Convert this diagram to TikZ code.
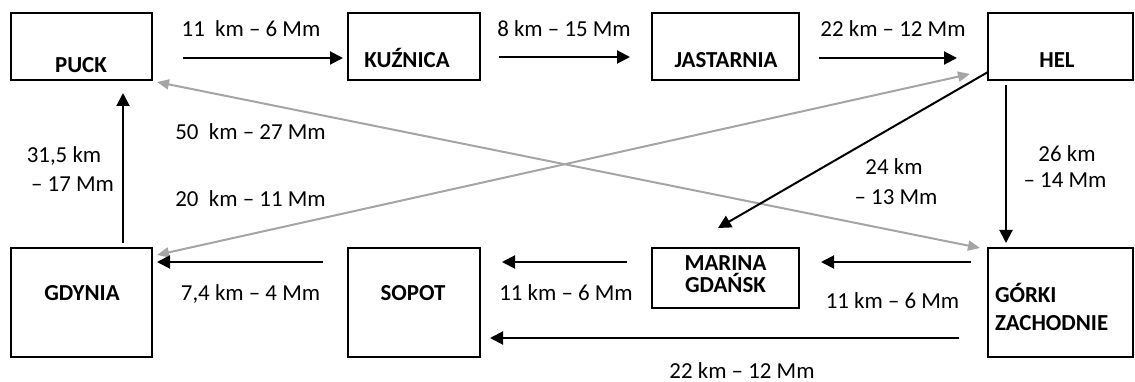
\documentclass[tikz,border=0pt]{standalone}
\usepackage{fontspec}
\setmainfont{Carlito}
\usetikzlibrary{arrows.meta}
\definecolor{arrgrey}{HTML}{A5A5A5}
\begin{document}
\begin{tikzpicture}[x=1pt,y=-1pt,
  citybox/.style n args={2}{draw, line width=2pt, inner sep=0pt, outer sep=0pt, minimum width=#1, minimum height=#2},
  lbl/.style={anchor=base, inner sep=0pt, outer sep=0pt, font=\fontsize{22.9}{27}\selectfont},
  citylft/.style={anchor=base west, inner sep=0pt, outer sep=0pt, font=\fontsize{22.9}{27}\selectfont\bfseries},
  citytxt/.style={anchor=base, inner sep=0pt, outer sep=0pt, font=\fontsize{22.9}{27}\selectfont\bfseries},
  arr/.style={line width=2pt, -{Triangle[length=13pt,width=13pt]}},
  garr/.style={line width=2pt, arrgrey, {Triangle[length=12pt,width=10pt]}-{Triangle[length=12pt,width=10pt]}}
]
\useasboundingbox (0,0) rectangle (1135,382);

% boxes
\node[citybox={141pt}{67pt}] (puck) at (81.5,46.5) {};
\node[citybox={132pt}{67pt}] (kuz) at (414,46.5) {};
\node[citybox={147pt}{67pt}] (jas) at (725.5,46.5) {};
\node[citybox={145pt}{67pt}] (hel) at (1060.5,46.5) {};
\node[citybox={141pt}{109pt}] (gdy) at (81.5,302.5) {};
\node[citybox={132pt}{109pt}] (sop) at (414,302.5) {};
\node[citybox={147pt}{60pt}] (mar) at (725.5,278) {};
\node[citybox={145pt}{109pt}] (gor) at (1060.5,302.5) {};

% box texts
\node[citytxt] (tpuck) at (81,73) {PUCK};
\node[citytxt] (tkuz) at (407,68) {KUŹNICA};
\node[citytxt] (tjas) at (726,68) {JASTARNIA};
\node[citytxt] (thel) at (1057,68) {HEL};
\node[citytxt] (tgdy) at (82,300) {GDYNIA};
\node[citytxt] (tsop) at (413,300) {SOPOT};
\node[citytxt] (tmar1) at (725.5,270) {MARINA};
\node[citytxt] (tmar2) at (725.5,292) {GDAŃSK};
\node[citylft] (tgor1) at (995,302) {GÓRKI};
\node[citylft] (tgor2) at (995,330) {ZACHODNIE};

% grey double arrows
\draw[garr] ([xshift=5pt,yshift=-7pt]gdy.north east) -- ([xshift=-18pt,yshift=-27.5pt]hel.west);
\draw[garr] ([xshift=5pt,yshift=-2pt]puck.south east) -- ([xshift=-8pt]gor.north west);

% black arrows
\draw[arr] ([xshift=31pt,yshift=-11.5pt]puck.east) -- ([xshift=-5pt,yshift=-11.5pt]kuz.west);
\draw[arr] ([xshift=19pt,yshift=-10.5pt]kuz.east) -- ([xshift=-22pt,yshift=-10.5pt]jas.west);
\draw[arr] ([xshift=20pt,yshift=-11.5pt]jas.east) -- ([xshift=-31pt,yshift=-11.5pt]hel.west);
\draw[arr] ([xshift=-54.5pt,yshift=-5pt]hel.south) -- ([xshift=-54.5pt,yshift=5pt]gor.north);
\draw[arr] ([yshift=-25.5pt]hel.west) -- ([xshift=-7.5pt,yshift=20pt]mar.north);
\draw[arr] ([xshift=41.5pt,yshift=5pt]gdy.north) -- ([xshift=41.5pt,yshift=-13pt]puck.south);
\draw[arr] ([xshift=-25pt,yshift=40.5pt]sop.west) -- ([xshift=5pt,yshift=40.5pt]gdy.east);
\draw[arr] ([xshift=-25pt,yshift=16pt]mar.west) -- ([xshift=22pt,yshift=40.5pt]sop.east);
\draw[arr] ([xshift=-17pt,yshift=40.5pt]gor.west) -- ([xshift=22pt,yshift=16pt]mar.east);
\draw[arr] ([xshift=-29pt,yshift=-35.5pt]gor.west) -- ([xshift=10pt,yshift=-35.5pt]sop.east);

% labels
\node[lbl] (l1) at (251,37) {11\ \ km – 6 Mm};
\node[lbl] (l2) at (564,37) {8 km – 15 Mm};
\node[lbl] (l3) at (893,37) {22 km – 12 Mm};
\node[lbl] (l4) at (250.5,140) {50\ \ km – 27 Mm};
\node[lbl] (l5) at (250.5,207) {20\ \ km – 11 Mm};
\node[lbl] (l6a) at (64,163) {31,5 km};
\node[lbl] (l6b) at (72.5,192) {– 17 Mm};
\node[lbl] (l7a) at (894,175) {24 km};
\node[lbl] (l7b) at (896,205) {– 13 Mm};
\node[lbl] (l8a) at (1067,162) {26 km};
\node[lbl] (l8b) at (1065,188) {– 14 Mm};
\node[lbl] (l9) at (250.5,300) {7,4 km – 4 Mm};
\node[lbl] (l10) at (566,300) {11 km – 6 Mm};
\node[lbl] (l11) at (892.5,308) {11 km – 6 Mm};
\node[lbl] (l12) at (742,378) {22 km – 12 Mm};
\end{tikzpicture}
\end{document}
